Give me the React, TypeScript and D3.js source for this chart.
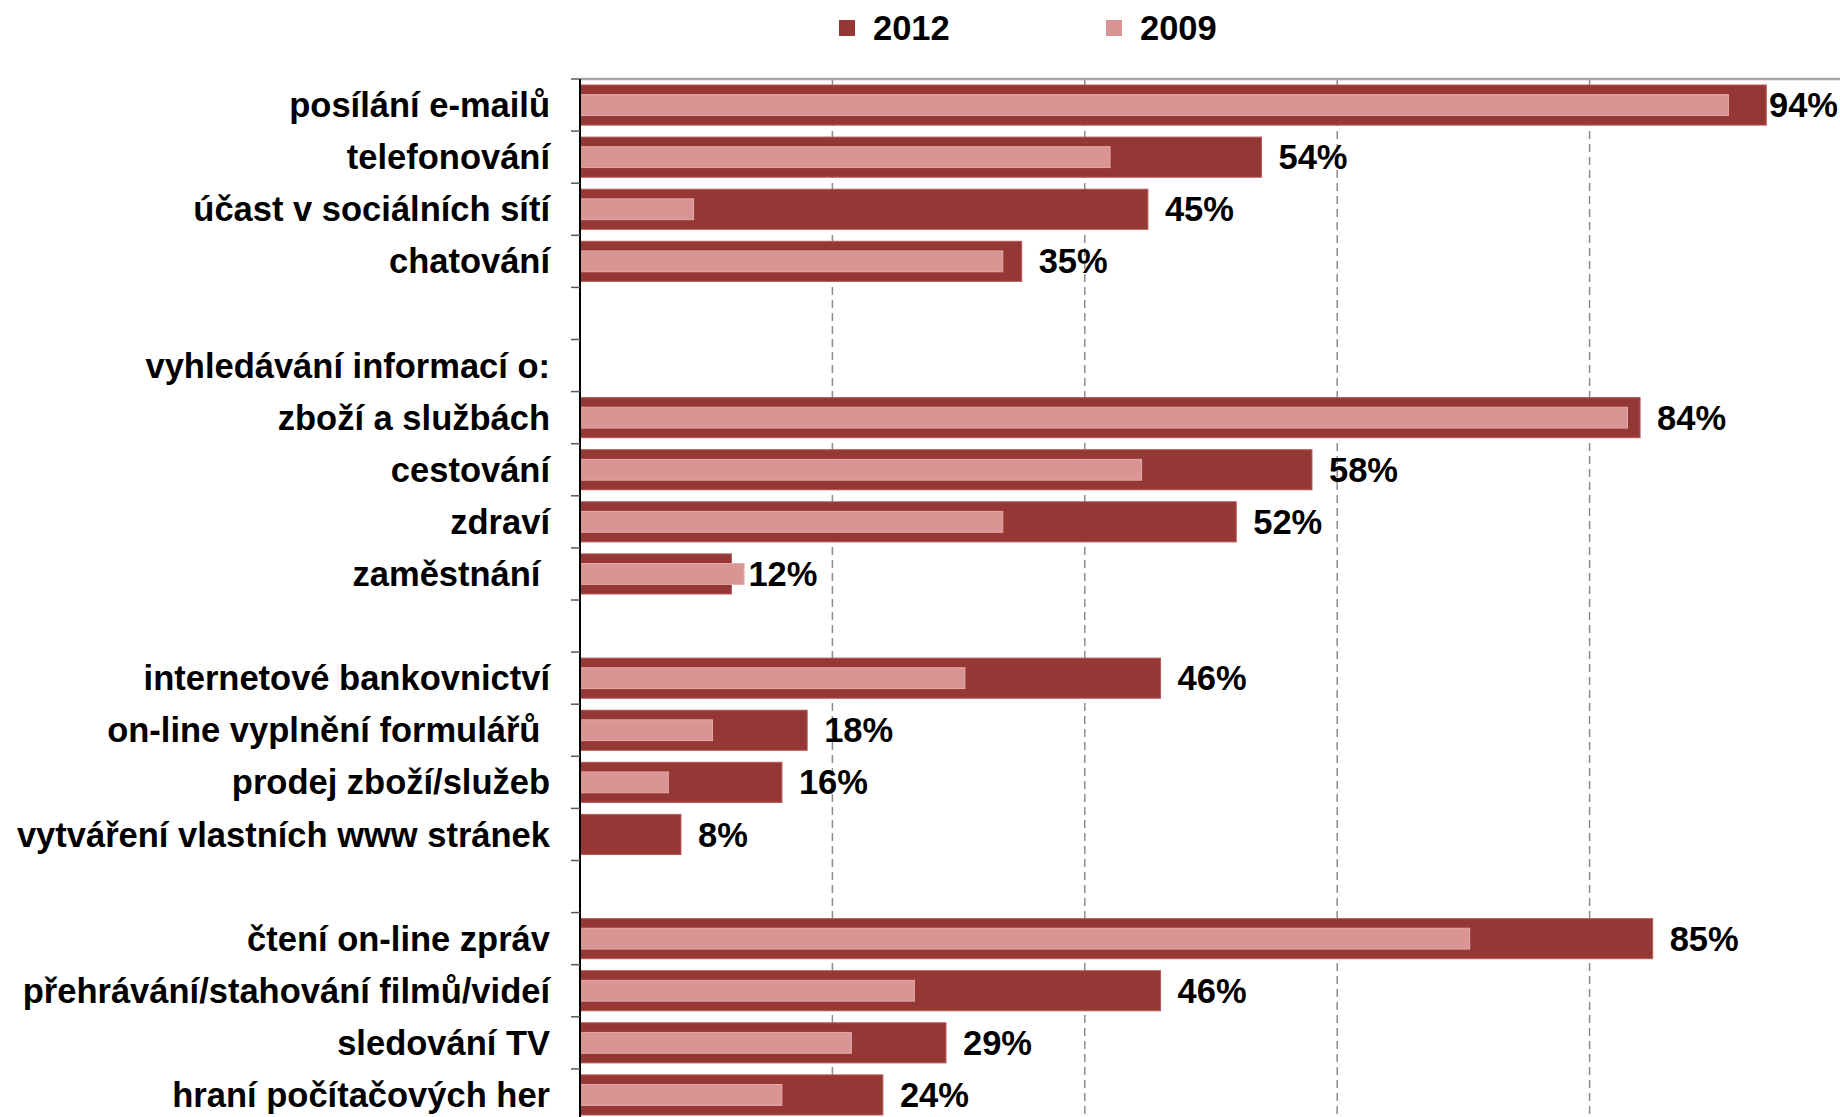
import React, { useRef, useEffect } from 'react';
import * as d3 from 'd3';

// řádky grafu (prázdný řetězec = mezera mezi skupinami)
const categories = [
  'posílání e-mailů',
  'telefonování',
  'účast v sociálních sítí',
  'chatování',
  '',
  'vyhledávání informací o:',
  'zboží a službách',
  'cestování',
  'zdraví',
  'zaměstnání ',
  '',
  'internetové bankovnictví',
  'on-line vyplnění formulářů ',
  'prodej zboží/služeb',
  'vytváření vlastních www stránek',
  '',
  'čtení on-line zpráv',
  'přehrávání/stahování filmů/videí',
  'sledování TV',
  'hraní počítačových her',
];

const values2012: (number | null)[] = [94, 54, 45, 35, null, null, 84, 58, 52, 12, null, 46, 18, 16, 8, null, 85, 46, 29, 24];
const values2009: (number | null)[] = [91, 42, 9, 33.5, null, null, 83, 44.5, 33.5, 13, null, 30.5, 10.5, 7, null, null, 70.5, 26.5, 21.5, 16];

const xTicks = [20, 40, 60, 80];
const seriesNames = ['2012', '2009'];

const C2012 = '#953735';
const C2009 = '#d99594';

const App: React.FC = () => {
  const ref = useRef<SVGSVGElement | null>(null);

  useEffect(() => {
    if (!ref.current) return;
    const width = 1840;
    const height = 1117;
    const left = 580;
    const top = 79;
    const slot = 52.1;
    const fs = 34.5;

    const svg = d3.select(ref.current);
    svg.selectAll('*').remove();
    svg.attr('width', width).attr('height', height);

    const x = d3.scaleLinear().domain([0, 100]).range([left, 1842]);
    const y = d3.scaleBand<number>()
      .domain(categories.map((_, i) => i))
      .range([top, top + slot * categories.length])
      .padding(0);

    const font = '"Liberation Sans", Arial, sans-serif';

    // mřížka
    svg.append('g')
      .selectAll('line')
      .data(xTicks)
      .join('line')
      .attr('x1', (d) => x(d))
      .attr('x2', (d) => x(d))
      .attr('y1', top)
      .attr('y2', height)
      .attr('stroke', '#8c8c8c')
      .attr('stroke-width', 1.5)
      .attr('stroke-dasharray', '8,5');

    // horní okraj
    svg.append('line')
      .attr('x1', left).attr('x2', width)
      .attr('y1', top).attr('y2', top)
      .attr('stroke', '#a6a6a6').attr('stroke-width', 2.5);

    const bh = y.bandwidth();

    // 2012
    svg.append('g')
      .selectAll('rect')
      .data(values2012.map((v, i) => ({ v, i })).filter((d) => d.v !== null))
      .join('rect')
      .attr('x', left)
      .attr('y', (d) => (y(d.i) as number) + bh * 0.115)
      .attr('width', (d) => x(d.v as number) - left)
      .attr('height', bh * 0.77)
      .attr('fill', C2012)
      .attr('stroke', '#b65a58')
      .attr('stroke-width', 1);

    // 2009
    svg.append('g')
      .selectAll('rect')
      .data(values2009.map((v, i) => ({ v, i })).filter((d) => d.v !== null))
      .join('rect')
      .attr('x', left)
      .attr('y', (d) => (y(d.i) as number) + bh * 0.3)
      .attr('width', (d) => x(d.v as number) - left)
      .attr('height', bh * 0.4)
      .attr('fill', C2009)
      .attr('stroke', '#e6aaa9')
      .attr('stroke-width', 1);

    // osa y
    svg.append('line')
      .attr('x1', left).attr('x2', left)
      .attr('y1', top).attr('y2', height)
      .attr('stroke', '#000').attr('stroke-width', 2);

    svg.append('g')
      .selectAll('line')
      .data(d3.range(categories.length + 1))
      .join('line')
      .attr('x1', left - 9)
      .attr('x2', left)
      .attr('y1', (d) => top + d * slot)
      .attr('y2', (d) => top + d * slot)
      .attr('stroke', '#595959')
      .attr('stroke-width', 1.5);

    // popisky kategorií
    svg.append('g')
      .selectAll('text')
      .data(categories)
      .join('text')
      .attr('x', 550)
      .attr('y', (_, i) => (y(i) as number) + bh / 2)
      .attr('dy', '0.35em')
      .attr('text-anchor', 'end')
      .attr('font-family', font)
      .attr('font-weight', 'bold')
      .attr('font-size', fs)
      .style('white-space', 'pre')
      .text((d) => d);

    // hodnoty
    svg.append('g')
      .selectAll('text')
      .data(values2012.map((v, i) => ({ v, i })).filter((d) => d.v !== null))
      .join('text')
      .attr('x', (d) => Math.min(x(d.v as number) + 17, 1769))
      .attr('y', (d) => (y(d.i) as number) + bh / 2)
      .attr('dy', '0.35em')
      .attr('font-family', font)
      .attr('font-weight', 'bold')
      .attr('font-size', fs)
      .text((d) => `${d.v}%`);

    // legenda
    const legend = svg.append('g');
    const lx = [839, 1106];
    seriesNames.forEach((name, i) => {
      legend.append('rect')
        .attr('x', lx[i]).attr('y', 20)
        .attr('width', 16).attr('height', 16)
        .attr('fill', i === 0 ? C2012 : C2009);
      legend.append('text')
        .attr('x', lx[i] + 34).attr('y', 28)
        .attr('dy', '0.35em')
        .attr('font-family', font)
        .attr('font-weight', 'bold')
        .attr('font-size', fs)
        .text(name);
    });
  }, []);

  return (
    <svg ref={ref} style={{ position: 'absolute', left: 0, top: 0, display: 'block', background: '#fff' }} />
  );
};

export default App;
